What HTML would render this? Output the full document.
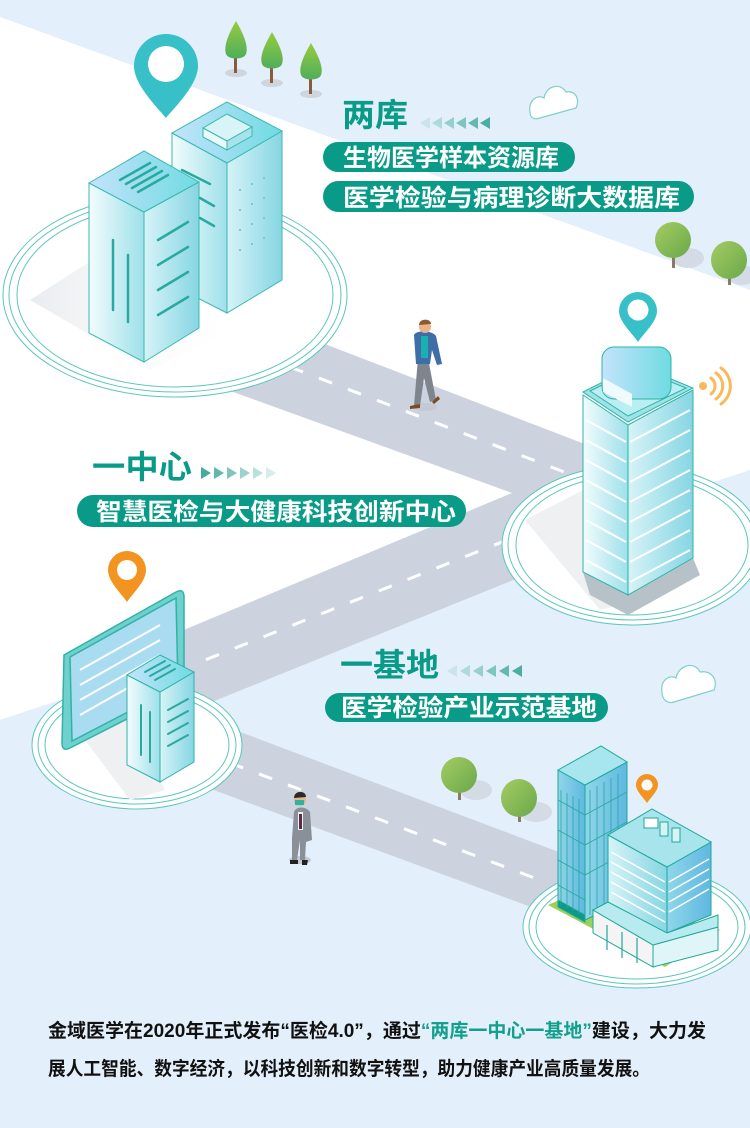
<!DOCTYPE html>
<html><head><meta charset="utf-8"><style>
html,body{margin:0;padding:0;background:#e3effb;}
svg{display:block;}
text{font-family:"Liberation Sans","Noto Sans CJK SC",sans-serif;}
</style></head><body>
<svg width="750" height="1128" viewBox="0 0 750 1128" xmlns="http://www.w3.org/2000/svg">
<defs>
<linearGradient id="face" x1="0" y1="0" x2="1" y2="0"><stop offset="0" stop-color="#f2fcfd"/><stop offset="1" stop-color="#9ee0ea"/></linearGradient>
<linearGradient id="face2" x1="0" y1="0" x2="1" y2="0"><stop offset="0" stop-color="#d6f3f7"/><stop offset="1" stop-color="#86d6e3"/></linearGradient>
<linearGradient id="top" x1="0" y1="0" x2="1" y2="0"><stop offset="0" stop-color="#c4e3fb"/><stop offset="1" stop-color="#6fdbe2"/></linearGradient>
<linearGradient id="tree" x1="0" y1="0" x2="0" y2="1"><stop offset="0" stop-color="#97cc3f"/><stop offset="1" stop-color="#4fae5a"/></linearGradient>
<linearGradient id="rtree" x1="0" y1="0" x2="1" y2="1"><stop offset="0" stop-color="#a4cc63"/><stop offset="1" stop-color="#6aa84a"/></linearGradient>
<linearGradient id="glass" x1="0" y1="0" x2="1" y2="0"><stop offset="0" stop-color="#8fd6ea"/><stop offset="1" stop-color="#5fb8e0"/></linearGradient>
<linearGradient id="shadow" x1="0" y1="0" x2="1" y2="0"><stop offset="0" stop-color="#e9ecef"/><stop offset="1" stop-color="#f9fafb" stop-opacity="0"/></linearGradient>
</defs>

<rect width="750" height="1128" fill="#e3effb"/>
<polygon points="0,17 750,290 750,470 0,720" fill="#ffffff"/>

<!-- roads -->
<polygon points="200,296 600,450 600,545 150,727 150,644 512,493 200,380" fill="#ccd3de"/>
<polygon points="200,296 600,450 600,545 512,493" fill="#ccd3de"/>
<polygon points="227,727 580,860 580,925 200,785" fill="#ccd3de"/>
<g stroke="#ffffff" stroke-width="3" stroke-dasharray="14 17" fill="none">
<line x1="290" y1="367" x2="580" y2="478"/>
<line x1="507" y1="540" x2="190" y2="666"/>
<line x1="230" y1="763" x2="545" y2="882"/>
</g>

<!-- circle platforms -->
<g fill="none" stroke="#5cc6bc" stroke-width="1">
<ellipse cx="175" cy="295" rx="172" ry="102" fill="#fff"/>
<ellipse cx="175" cy="295" rx="166" ry="97"/>
<ellipse cx="175" cy="295" rx="158" ry="92"/>
<ellipse cx="632" cy="545" rx="130" ry="80" fill="#fff"/>
<ellipse cx="632" cy="545" rx="124" ry="75"/>
<ellipse cx="632" cy="545" rx="116" ry="70"/>
<ellipse cx="137" cy="745" rx="105" ry="64" fill="#fff"/>
<ellipse cx="137" cy="745" rx="99" ry="59"/>
<ellipse cx="137" cy="745" rx="92" ry="54"/>
<ellipse cx="637" cy="927" rx="114" ry="61" fill="#fff"/>
<ellipse cx="637" cy="927" rx="108" ry="57"/>
<ellipse cx="637" cy="927" rx="101" ry="52"/>
</g>
<polygon points="30,300 100,255 230,330 150,370" fill="url(#shadow)"/>
<polygon points="525,520 583,490 640,600 600,610" fill="#eef0f2"/>
<polygon points="85,740 127,718 165,790 130,800" fill="#eef0f2"/>

<!-- trees top -->
<g>
<ellipse cx="236" cy="73" rx="11" ry="4" fill="#cfd5dd"/><rect x="234" y="55" width="3" height="18" fill="#8b5a3c"/><path d="M236,21 C226,38 224,48 226,54 C228,60 244,60 246,54 C248,48 246,38 236,21Z" fill="url(#tree)"/>
<ellipse cx="272" cy="83" rx="11" ry="4" fill="#cfd5dd"/><rect x="270" y="65" width="3" height="18" fill="#8b5a3c"/><path d="M272,32 C262,49 260,58 262,64 C264,70 280,70 282,64 C284,58 282,49 272,32Z" fill="url(#tree)"/>
<ellipse cx="311" cy="94" rx="11" ry="4" fill="#cfd5dd"/><rect x="309" y="76" width="3" height="18" fill="#8b5a3c"/><path d="M311,43 C301,60 299,69 301,75 C303,81 319,81 321,75 C323,69 321,60 311,43Z" fill="url(#tree)"/>
</g>
<!-- round trees -->
<g>
<ellipse cx="688" cy="258" rx="16" ry="10" fill="#d4dbe4"/><rect x="672" y="250" width="3" height="18" fill="#8b7a6a"/><ellipse cx="673" cy="240" rx="18" ry="18" fill="url(#rtree)"/>
<ellipse cx="742" cy="275" rx="14" ry="10" fill="#d4dbe4"/><rect x="728" y="268" width="3" height="17" fill="#8b7a6a"/><ellipse cx="729" cy="260" rx="18" ry="19" fill="url(#rtree)"/>
<ellipse cx="476" cy="790" rx="16" ry="10" fill="#d4dbe4"/><rect x="458" y="782" width="3" height="18" fill="#8b7a6a"/><ellipse cx="459" cy="775" rx="18" ry="18" fill="url(#rtree)"/>
<ellipse cx="536" cy="812" rx="16" ry="10" fill="#d4dbe4"/><rect x="518" y="804" width="3" height="18" fill="#8b7a6a"/><ellipse cx="519" cy="798" rx="18" ry="19" fill="url(#rtree)"/>
</g>

<!-- clouds -->
<g fill="#fff" stroke="#7fd1c8" stroke-width="1.2">
<path d="M530,112 C528,100 538,94 544,98 C546,86 560,82 566,92 C576,90 580,100 576,108 L540,118 C534,120 530,118 530,112Z"/>
<path d="M662,692 C660,680 670,674 676,678 C678,666 694,660 700,672 C712,670 718,680 714,690 L674,702 C668,704 662,700 662,692Z"/>
</g>

<!-- top-left buildings -->
<g stroke="#3bb8b0" stroke-width="1">
<polygon points="172,133 227,163 227,313 172,285" fill="url(#face)"/>
<polygon points="227,163 282,131 282,280 227,313" fill="url(#face2)"/>
<polygon points="172,133 227,102 282,131 227,163" fill="url(#top)"/>
<polygon points="203,128 227,114 252,127 227,141" fill="#d9f4f7"/>
<polygon points="203,128 227,141 227,150 203,137" fill="#eafafb"/>
<polygon points="227,141 252,127 252,136 227,150" fill="#a7e3ea"/>
<polygon points="89,183 144,212 144,362 89,333" fill="url(#face)"/>
<polygon points="144,212 199,182 199,328 144,362" fill="url(#face2)"/>
<polygon points="89,183 144,151 199,182 144,212" fill="url(#top)"/>
</g>
<g stroke="#2aa9a0" stroke-width="2.5" stroke-linecap="round" fill="none">
<line x1="120" y1="180" x2="150" y2="163"/><line x1="126" y1="184" x2="156" y2="167"/><line x1="132" y1="188" x2="162" y2="171"/><line x1="138" y1="192" x2="168" y2="175"/>
<line x1="158" y1="240" x2="188" y2="222"/><line x1="158" y1="265" x2="188" y2="247"/><line x1="158" y1="290" x2="188" y2="272"/><line x1="158" y1="315" x2="188" y2="297"/>
<line x1="113" y1="240" x2="113" y2="310"/><line x1="128" y1="255" x2="128" y2="322"/>
<line x1="182" y1="170" x2="210" y2="184"/><line x1="200" y1="198" x2="214" y2="206"/><line x1="200" y1="218" x2="214" y2="226"/>
</g>
<g fill="#5fc4c8">
<circle cx="240" cy="190" r="1"/><circle cx="252" cy="184" r="1"/><circle cx="264" cy="178" r="1"/>
<circle cx="240" cy="210" r="1"/><circle cx="252" cy="204" r="1"/><circle cx="264" cy="198" r="1"/>
<circle cx="240" cy="230" r="1"/><circle cx="252" cy="224" r="1"/><circle cx="264" cy="218" r="1"/>
<circle cx="240" cy="250" r="1"/><circle cx="252" cy="244" r="1"/><circle cx="264" cy="238" r="1"/>
</g>

<!-- pins -->
<path d="M166,118 C158,108 134,85 134,66 A32,32 0 1 1 198,66 C198,85 174,108 166,118Z" fill="#38c0c8"/>
<circle cx="166" cy="64" r="18" fill="#fff"/>
<path d="M638,342 C633,334 619,322 619,311 A19,19 0 1 1 657,311 C657,322 643,334 638,342Z" fill="#38c0c8"/>
<circle cx="638" cy="310" r="10.5" fill="#fff"/>
<path d="M127,602 C122,594 108,582 108,570 A19,19 0 1 1 146,570 C146,582 132,594 127,602Z" fill="#f39320"/>
<circle cx="127" cy="570" r="10" fill="#fff"/>
<path d="M647,803 C643,797 636,791 636,785 A11,11 0 1 1 658,785 C658,791 651,797 647,803Z" fill="#f39320"/>
<circle cx="647" cy="785" r="5.5" fill="#fff"/>

<!-- tower -->
<polygon points="590,595 628,615 700,575 693,558 628,595 583,572" fill="#b7c2c8"/>
<g stroke="#2fb3a8" stroke-width="1">
<polygon points="583,395 628,425 628,595 583,572" fill="url(#face)"/>
<polygon points="628,425 693,390 693,558 628,595" fill="url(#face2)"/>
<polygon points="583,392 637,365 693,388 628,422" fill="#9ee3e8"/>
<polygon points="590,391 637,368 686,388 628,416" fill="#b9eef2"/>
<rect x="602" y="347" width="69" height="52" rx="12" fill="url(#top)"/>
<polygon points="603,378 632,394 632,407 603,392" fill="#eefafc" stroke="none"/>
</g>
<g stroke="#ffffff" stroke-width="2" fill="none">
<path d="M586,420 L626,442 M586,440 L626,462 M586,460 L626,482 M586,480 L626,502 M586,500 L626,522 M586,520 L626,542 M586,540 L626,562 M586,560 L626,582"/>
<path d="M630,442 L690,410 M630,462 L690,430 M630,482 L690,450 M630,502 L690,470 M630,522 L690,490 M630,542 L690,510 M630,562 L690,530 M630,582 L690,550"/>
</g>
<!-- wifi -->
<circle cx="703" cy="386" r="4" fill="#f8b95a"/>
<g stroke="#f8b95a" stroke-width="3" fill="none" stroke-linecap="round">
<path d="M711,378 A10,10 0 0 1 711,394"/><path d="M716,373 A16,16 0 0 1 716,399"/><path d="M721,368 A22,22 0 0 1 721,404"/>
</g>

<!-- left bottom: screen + building -->
<g stroke="#2fb3a8" stroke-width="1.5">
<path d="M64,655 L176,592 Q184,588 184,597 L184,690 L70,748 Q62,752 62,743 Z" fill="#6fd0cd"/>
<path d="M70,657 L176,598 L178,686 L72,741 Z" fill="#a9dcf0"/>
</g>
<g stroke="#ffffff" stroke-width="2"><line x1="80" y1="670" x2="160" y2="625"/><line x1="80" y1="685" x2="160" y2="640"/><line x1="80" y1="700" x2="160" y2="655"/><line x1="80" y1="715" x2="140" y2="681"/></g>
<g stroke="#2fb3a8" stroke-width="1">
<polygon points="127,675 160,692 160,782 127,765" fill="url(#face)"/>
<polygon points="160,692 194,672 194,762 160,782" fill="url(#face2)"/>
<polygon points="127,675 160,655 194,672 160,692" fill="url(#top)"/>
</g>
<g stroke="#2aa9a0" stroke-width="2" stroke-linecap="round" fill="none">
<line x1="145" y1="672" x2="165" y2="661"/><line x1="150" y1="676" x2="170" y2="665"/><line x1="155" y1="680" x2="175" y2="669"/>
<line x1="168" y1="710" x2="188" y2="699"/><line x1="168" y1="722" x2="188" y2="711"/><line x1="168" y1="734" x2="188" y2="723"/><line x1="168" y1="746" x2="188" y2="735"/>
<line x1="141" y1="705" x2="141" y2="755"/><line x1="150" y1="712" x2="150" y2="762"/>
</g>

<!-- bottom right buildings -->
<polygon points="548,905 585,888 720,930 665,967" fill="#9ccf5c"/>
<g stroke="#1fa89a" stroke-width="1">
<polygon points="558,770 585,785 585,920 558,905" fill="url(#glass)"/>
<polygon points="585,785 627,762 627,900 585,920" fill="url(#glass)"/>
<polygon points="558,770 601,746 627,762 585,785" fill="#a8e6ef"/>
<polygon points="558,900 585,915 585,922 558,907" fill="#0b9b88"/>
</g>
<g stroke="#2ba69c" stroke-width="0.8">
<path d="M561,790 V905 M567,793 V908 M573,796 V911 M579,799 V914 M590,790 V915 M597,786 V911 M604,782 V907 M611,778 V903 M618,774 V899"/>
<path d="M558,800 L585,815 M558,830 L585,845 M558,860 L585,875 M558,885 L585,900 M585,815 L627,792 M585,845 L627,822 M585,875 L627,852"/>
</g>
<g stroke="#1fa89a" stroke-width="1">
<polygon points="593,910 653,945 653,967 593,933" fill="#f4f4f5"/>
<polygon points="653,945 718,927 718,950 653,967" fill="#dff5f7"/>
<polygon points="608,835 667,867 667,933 608,915" fill="url(#face2)"/>
<polygon points="667,867 711,842 711,915 667,933" fill="url(#glass)"/>
<polygon points="608,835 652,809 711,842 667,867" fill="#a8e4ec"/>
<polygon points="593,910 608,902 667,933 718,915 718,927 653,945" fill="#b8ebf0"/>
<rect x="644" y="818" width="14" height="10" fill="#fff"/>
<rect x="660" y="822" width="8" height="14" fill="#d6f3f6"/><rect x="672" y="828" width="8" height="14" fill="#d6f3f6"/>
</g>
<g stroke="#ffffff" stroke-width="1.5"><path d="M611,852 L665,882 M611,862 L665,892 M611,872 L665,902 M611,882 L665,912 M611,892 L665,922 M669,882 L709,859 M669,892 L709,869 M669,902 L709,879 M669,912 L709,889"/></g>
<g stroke="#1fa89a" stroke-width="1.2"><path d="M607,925 V950 M622,932 V958 M637,938 V963"/></g>

<!-- people -->
<g>
<ellipse cx="425" cy="407" rx="12" ry="4" fill="#c3cad5"/>
<path d="M418,358 L428,358 L436,400 L430,402 L424,378 L420,406 L414,406Z" fill="#7f858c"/>
<path d="M414,335 C416,330 432,330 436,336 L442,364 L437,365 L432,350 L430,364 L416,364Z" fill="#3d6fa6"/>
<rect x="421" y="336" width="7" height="22" fill="#18b0b0"/>
<circle cx="425" cy="327" r="6" fill="#e8b48a"/><path d="M419,325 C419,318 431,318 431,324 L419,325Z" fill="#8a5a2e"/>
<path d="M410,406 L420,404 L420,408 L410,409Z M432,402 L438,396 L440,399 L434,404Z" fill="#7a4a26"/>
<ellipse cx="300" cy="860" rx="11" ry="4" fill="#c3cad5"/>
<path d="M294,812 C296,806 306,806 310,812 L312,840 L306,842 L305,860 L300,860 L300,840 L297,860 L292,860 L292,838Z" fill="#8a9098"/>
<rect x="298" y="812" width="5" height="18" fill="#f2f2f2"/><rect x="299" y="814" width="3" height="15" fill="#5a2a4a"/>
<circle cx="300" cy="800" r="6" fill="#e8b48a"/><path d="M294,798 C294,790 306,790 306,797Z" fill="#2a2a2a"/>
<rect x="295" y="800" width="9" height="5" fill="#2bb3a6"/>
<path d="M290,860 L298,860 L298,864 L290,864Z M302,860 L308,860 L307,865 L302,865Z" fill="#222"/>
</g>

<!-- headings -->
<g fill="#0a9b88" font-weight="bold">
<text x="342" y="126" font-size="32" textLength="66" lengthAdjust="spacingAndGlyphs">两库</text>
<text x="92" y="478" font-size="32" textLength="100" lengthAdjust="spacingAndGlyphs">一中心</text>
<text x="340" y="676" font-size="32" textLength="99" lengthAdjust="spacingAndGlyphs">一基地</text>
</g>
<!-- arrows -->
<g fill="#3aa698">
<path d="M420,123 l10,-6 v12z" opacity="0.15"/><path d="M432,123 l10,-6 v12z" opacity="0.3"/><path d="M444,123 l10,-6 v12z" opacity="0.45"/><path d="M456,123 l10,-6 v12z" opacity="0.6"/><path d="M468,123 l10,-6 v12z" opacity="0.75"/><path d="M480,123 l10,-6 v12z" opacity="0.9"/>
<path d="M201,467 l10,6 l-10,6z" opacity="0.95"/><path d="M214,467 l10,6 l-10,6z" opacity="0.8"/><path d="M227,467 l10,6 l-10,6z" opacity="0.65"/><path d="M240,467 l10,6 l-10,6z" opacity="0.5"/><path d="M253,467 l10,6 l-10,6z" opacity="0.35"/><path d="M266,467 l10,6 l-10,6z" opacity="0.2"/>
<path d="M447,671 l10,-6 v12z" opacity="0.15"/><path d="M460,671 l10,-6 v12z" opacity="0.3"/><path d="M473,671 l10,-6 v12z" opacity="0.45"/><path d="M486,671 l10,-6 v12z" opacity="0.6"/><path d="M499,671 l10,-6 v12z" opacity="0.75"/><path d="M512,671 l10,-6 v12z" opacity="0.9"/>
</g>
<!-- pills -->
<g fill="#0a9b88">
<rect x="323" y="142" width="252" height="30" rx="15"/>
<rect x="323" y="181" width="371" height="31" rx="15.5"/>
<rect x="77" y="495" width="389" height="32" rx="16"/>
<rect x="325" y="693" width="283" height="29" rx="14.5"/>
</g>
<g fill="#ffffff" font-weight="bold" font-size="24">
<text x="343" y="166" textLength="216" lengthAdjust="spacingAndGlyphs">生物医学样本资源库</text>
<text x="343" y="206" textLength="337" lengthAdjust="spacingAndGlyphs">医学检验与病理诊断大数据库</text>
<text x="96" y="520" textLength="360" lengthAdjust="spacingAndGlyphs">智慧医检与大健康科技创新中心</text>
<text x="341" y="716" textLength="256" lengthAdjust="spacingAndGlyphs">医学检验产业示范基地</text>
</g>

<!-- bottom paragraph -->
<g font-size="19" font-weight="bold" fill="#111">
<text x="48" y="1037" textLength="658" lengthAdjust="spacingAndGlyphs">金域医学在2020年正式发布“医检4.0”，通过<tspan fill="#12a08c">“两库一中心一基地”</tspan>建设，大力发</text>
<text x="48" y="1075" textLength="602" lengthAdjust="spacingAndGlyphs">展人工智能、数字经济，以科技创新和数字转型，助力健康产业高质量发展。</text>
</g>
</svg>
</body></html>
